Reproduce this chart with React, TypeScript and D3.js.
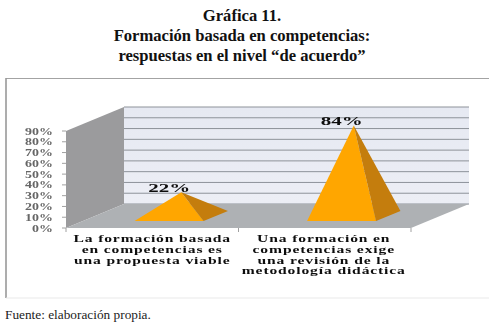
import React from "react";
import * as d3 from "d3";

const titleLines = ["Gráfica 11.", "Formación basada en competencias:", "respuestas en el nivel “de acuerdo”"];
const categories = ["a", "b"];
const categoryLabels = [
  ["La formación basada", "en competencias es", "una propuesta viable"],
  ["Una formación en", "competencias exige", "una revisión de la", "metodología didáctica"],
];
const values = [22, 84];
const ticks = [0, 10, 20, 30, 40, 50, 60, 70, 80, 90];

const DEPTH_X = 58;
const DEPTH_Y = -24;

const x = d3.scaleBand<string>().domain(categories).range([66, 411]).paddingInner(0.6).paddingOuter(0.3);
const y = d3.scaleLinear().domain([0, 90]).range([228, 131]);

// front plane x, depth 0..1, value -> screen point
function project(fx: number, depth: number, v: number): [number, number] {
  return [fx + depth * DEPTH_X, y(v) + depth * DEPTH_Y];
}

const poly = (pts: [number, number][]) => d3.line()(pts) + "Z";

export default function App() {
  const [x0, x1] = x.range();
  return (
    <svg width={494} height={331} style={{ position: "absolute", left: 0, top: 0, background: "#fff" }}>
      <defs>
        <filter id="soft" x="-5%" y="-5%" width="110%" height="110%">
          <feGaussianBlur stdDeviation="0.45" />
        </filter>
        <linearGradient id="wall" x1="0" x2="0" y1="0" y2="1">
          <stop offset="0" stopColor="#e6e9f2" />
          <stop offset="1" stopColor="#eceef5" />
        </linearGradient>
      </defs>

      {titleLines.map((t, i) => (
        <text key={i} x={242} y={21 + i * 20} textAnchor="middle" fontFamily="Liberation Serif" fontWeight="bold" fontSize={16.6} fill="#111">
          {t}
        </text>
      ))}

      {/* frame: heavy left and top, faint bottom */}
      <line x1={6} x2={489} y1={78.5} y2={78.5} stroke="#a3a3a3" strokeWidth={1.2} />
      <line x1={6} x2={6} y1={78} y2={298} stroke="#999" strokeWidth={1.6} />
      <line x1={6} x2={489} y1={298} y2={298} stroke="#e9e9e9" strokeWidth={1.2} />

      <g filter="url(#soft)">
        {/* back wall */}
        <path d={poly([project(x0, 1, 0), project(x1, 1, 0), project(x1, 1, 90), project(x0, 1, 90)])} fill="url(#wall)" />
        {ticks.map((t) => (
          <path key={t} d={d3.line()([project(x0, 1, t), project(x1, 1, t)]) as string} stroke="#8d9299" strokeWidth={1} fill="none" />
        ))}
        {/* side wall */}
        <path d={poly([project(x0, 0, 0), project(x0, 1, 0), project(x0, 1, 90), project(x0, 0, 90)])} fill="#9b9b9d" />
        {/* floor */}
        <path d={poly([project(x0, 0, 0), project(x0, 1, 0), project(x1, 1, 0), project(x1, 0, 0)])} fill="#aeb1b4" />

        {/* axis ticks */}
        {ticks.map((t) => (
          <line key={t} x1={x0 - 4} x2={x0} y1={y(t)} y2={y(t)} stroke="#a0a0a0" />
        ))}
        {[x0, x0 + x.step(), x1].map((v) => (
          <line key={v} x1={v} x2={v} y1={228} y2={232} stroke="#a0a0a0" />
        ))}

        {ticks.map((t) => (
          <text key={t} transform={`translate(53,${y(t) + 3.5}) scale(1.33,1)`} textAnchor="end" fontFamily="Liberation Serif" fontWeight="bold" fontSize={10.5} fill="#666">
            {t}%
          </text>
        ))}

        {categories.map((c, i) => {
          const left = x(c) as number;
          const right = left + x.bandwidth();
          const mid = left + x.bandwidth() / 2;
          const apex = project(mid, 0.5, values[i]);
          const a = project(left, 0.29, 0);
          const b = project(right, 0.29, 0);
          const d = project(right, 0.71, 0);
          return (
            <g key={c}>
              <path d={poly([apex, a, b])} fill="#ffa600" />
              <path d={poly([apex, b, d])} fill="#c47d0a" />
              <text transform={`translate(${apex[0] - 12},${apex[1] - 0.5}) scale(1.75,1)`} textAnchor="middle" fontFamily="Liberation Serif" fontWeight="bold" fontSize={12} fill="#111">
                {values[i]}%
              </text>
            </g>
          );
        })}

        {categories.map((c, i) => {
          const mid = (x(c) as number) + x.bandwidth() / 2 - i;
          return categoryLabels[i].map((t, j) => (
            <text key={j} transform={`translate(${mid},${242 + j * 10.8}) scale(1.42,1)`} textAnchor="middle" fontFamily="Liberation Serif" fontWeight="bold" fontSize={11} letterSpacing={0.6} fill="#111">
              {t}
            </text>
          ));
        })}
      </g>

      <text x={5} y={319} fontFamily="Liberation Serif" fontSize={13.3} fill="#222">
        Fuente: elaboración propia.
      </text>
    </svg>
  );
}
